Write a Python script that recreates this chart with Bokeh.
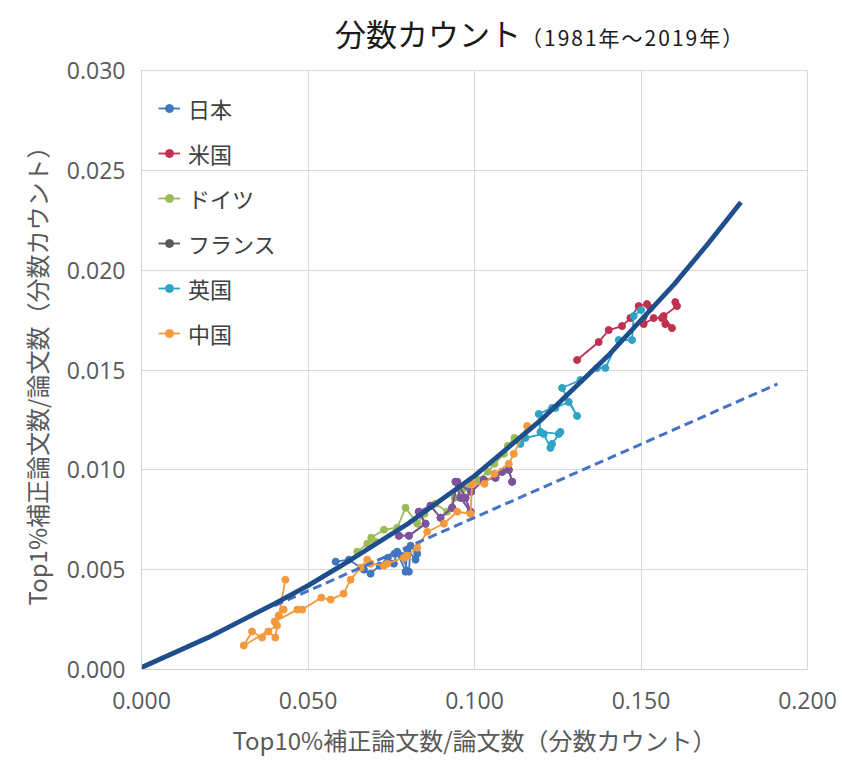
from bokeh.plotting import figure
from bokeh.models import (ColumnDataSource, Legend, LegendItem, FixedTicker,
                          NumeralTickFormatter, Range1d, Div)
from bokeh.layouts import column
from bokeh.embed import file_html
from bokeh.resources import INLINE

# ---------------- data ----------------
jp_x = [0.0583, 0.0623, 0.0668, 0.0688, 0.0715, 0.0740, 0.0758, 0.0768, 0.0793, 0.0798,
        0.0823, 0.0828, 0.0808, 0.0803, 0.0780, 0.0760]
jp_y = [0.0054, 0.0055, 0.0050, 0.0048, 0.0052, 0.0056, 0.0053, 0.0059, 0.0049, 0.0060,
        0.0055, 0.0058, 0.0062, 0.0049, 0.0057, 0.0058]

us_x = [0.1603, 0.1608, 0.1568, 0.1593, 0.1573, 0.1563, 0.1538, 0.1508, 0.1528, 0.1518,
        0.1493, 0.1468, 0.1443, 0.1403, 0.1373, 0.1308]
us_y = [0.0184, 0.0182, 0.0177, 0.0171, 0.0173, 0.0176, 0.0176, 0.0173, 0.0181, 0.0183,
        0.0182, 0.0176, 0.0172, 0.0170, 0.0164, 0.0155]

de_x = [0.0648, 0.0678, 0.0703, 0.0690, 0.0728, 0.0768, 0.0793, 0.0828, 0.0850, 0.0883,
        0.0918, 0.0940, 0.0963, 0.0983, 0.1010, 0.1040, 0.1060, 0.1088, 0.1100, 0.1120]
de_y = [0.0059, 0.0063, 0.0064, 0.0066, 0.0070, 0.0071, 0.0081, 0.0073, 0.0078, 0.0083,
        0.0079, 0.0086, 0.0090, 0.0091, 0.0095, 0.0099, 0.0103, 0.0108, 0.0112, 0.0116]

fr_x = [0.0773, 0.0803, 0.0853, 0.0833, 0.0868, 0.0898, 0.0933, 0.0948, 0.0973, 0.0988,
        0.0958, 0.0943, 0.0990, 0.1028, 0.1063, 0.1083, 0.1103, 0.1113]
fr_y = [0.0067, 0.0067, 0.0073, 0.0079, 0.0082, 0.0076, 0.0081, 0.0094, 0.0086, 0.0079,
        0.0086, 0.0094, 0.0089, 0.0095, 0.0096, 0.0099, 0.0100, 0.0094]

uk_x = [0.1138, 0.1153, 0.1208, 0.1228, 0.1233, 0.1258, 0.1253, 0.1198, 0.1193, 0.1233,
        0.1243, 0.1283, 0.1308, 0.1263, 0.1318, 0.1368, 0.1393, 0.1433, 0.1473, 0.1478, 0.1500]
uk_y = [0.0113, 0.0116, 0.0118, 0.0111, 0.0113, 0.0119, 0.0118, 0.0119, 0.0128, 0.0131,
        0.0131, 0.0134, 0.0127, 0.0141, 0.0145, 0.0151, 0.0151, 0.0165, 0.0165, 0.0177, 0.0180]

cn_x = [0.0432, 0.0407, 0.0307, 0.0332, 0.0362, 0.0381, 0.0402, 0.0412, 0.0427, 0.0400,
        0.0468, 0.0483, 0.0540, 0.0568, 0.0607, 0.0628, 0.0658, 0.0678, 0.0688, 0.0728,
        0.0738, 0.0788, 0.0798, 0.0828, 0.0858, 0.0908, 0.0948, 0.0988, 0.0993, 0.1030,
        0.1060, 0.1103, 0.1118, 0.1158]
cn_y = [0.0045, 0.0022, 0.0012, 0.0019, 0.0016, 0.0019, 0.0016, 0.0027, 0.0030, 0.0024,
        0.0030, 0.0030, 0.0036, 0.0035, 0.0038, 0.0045, 0.0051, 0.0055, 0.0053, 0.0052,
        0.0053, 0.0056, 0.0057, 0.0061, 0.0069, 0.0073, 0.0079, 0.0078, 0.0093, 0.0093,
        0.0098, 0.0103, 0.0108, 0.0122]

# fitted curve (solid) and linear trend (dashed)
fit_x = [0.0, 0.02, 0.04, 0.05, 0.06, 0.08, 0.10, 0.12, 0.13, 0.14, 0.15, 0.16, 0.17, 0.18]
fit_y = [0.0001, 0.0016, 0.0033, 0.0042, 0.0052, 0.0073, 0.0097, 0.0125, 0.0141, 0.0157,
         0.0175, 0.0193, 0.0213, 0.0234]
lin_x = [0.040, 0.191]
lin_y = [0.0032, 0.0143]

x_ticks = [0.0, 0.05, 0.10, 0.15, 0.20]
y_ticks = [0.0, 0.005, 0.010, 0.015, 0.020, 0.025, 0.030]

names = ["日本", "米国", "ドイツ", "フランス", "英国", "中国"]
series = [(jp_x, jp_y), (us_x, us_y), (de_x, de_y), (fr_x, fr_y), (uk_x, uk_y), (cn_x, cn_y)]
colors = ["#3f76bd", "#c0304f", "#9bbb59", "#7e52a0", "#2fa3c4", "#f59a3c"]
legend_colors = ["#3f76bd", "#c0304f", "#9bbb59", "#5a5a5a", "#2fa3c4", "#f59a3c"]

title_main = "分数カウント"
title_sub = "（1981年～2019年）"
x_label = "Top10%補正論文数/論文数（分数カウント）"
y_label = "Top1%補正論文数/論文数（分数カウント）"

JP = "Noto Sans CJK JP"

# ---------------- title ----------------
title = Div(
    text=(f'<div style="padding-left:335px;padding-top:16px;white-space:nowrap;'
          f'font-family:\'{JP}\';color:#1a1a1a;line-height:34px;">'
          f'<span style="font-size:31px;">{title_main}</span>'
          f'<span style="font-size:21px;letter-spacing:2px;">{title_sub}</span></div>'),
    width=842, height=52, margin=0)

# ---------------- figure ----------------
p = figure(width=842, height=724, output_backend="svg", toolbar_location=None,
           x_range=Range1d(0, 0.2), y_range=Range1d(0, 0.03),
           min_border_left=141, min_border_right=35, min_border_top=18, min_border_bottom=107,
           margin=0)
p.background_fill_color = "white"
p.border_fill_color = "white"
p.outline_line_color = "#d9d9d9"

for ax in (p.xaxis[0], p.yaxis[0]):
    ax.axis_line_color = "#d0d0d0"
    ax.major_tick_line_color = None
    ax.minor_tick_line_color = None
    ax.major_tick_out = 0
    ax.major_tick_in = 0
    ax.major_label_text_font = "Open Sans"
    ax.major_label_text_font_size = "23px"
    ax.major_label_text_color = "#595959"
    ax.axis_label_text_font = JP
    ax.axis_label_text_font_size = "24px"
    ax.axis_label_text_font_style = "normal"
    ax.axis_label_text_color = "#595959"
    ax.formatter = NumeralTickFormatter(format="0.000")

p.xaxis[0].ticker = FixedTicker(ticks=x_ticks)
p.yaxis[0].ticker = FixedTicker(ticks=y_ticks)
p.xaxis[0].major_label_standoff = 22
p.yaxis[0].major_label_standoff = 16
p.xaxis[0].axis_label = x_label
p.yaxis[0].axis_label = y_label
p.xaxis[0].axis_label_standoff = 10
p.yaxis[0].axis_label_standoff = 10

p.xgrid.grid_line_color = "#d9d9d9"
p.ygrid.grid_line_color = "#d9d9d9"
p.xgrid.ticker = FixedTicker(ticks=x_ticks)
p.ygrid.ticker = FixedTicker(ticks=y_ticks)

items = []
for name, (xs, ys), c, lc in zip(names, series, colors, legend_colors):
    src = ColumnDataSource(dict(x=xs, y=ys))
    leg = []
    if lc != c:
        # legend swatch colour differs from the plotted colour: draw it underneath
        leg = [p.line("x", "y", source=src, line_color=lc, line_width=1.8),
               p.scatter("x", "y", source=src, size=7, fill_color=lc, line_color=lc)]
    r_line = p.line("x", "y", source=src, line_color=c, line_width=1.8)
    r_pt = p.scatter("x", "y", source=src, size=7, fill_color=c, line_color=c)
    items.append(LegendItem(label=name, renderers=leg if leg else [r_line, r_pt]))

p.line(lin_x, lin_y, line_color="#4472c4", line_width=3, line_dash="9 5")
p.line(fit_x, fit_y, line_color="#1f4e8c", line_width=4.8)

legend = Legend(items=items, location=(17, 320), orientation="vertical",
                border_line_color=None, background_fill_alpha=0, padding=0, margin=0,
                spacing=13, glyph_height=20, glyph_width=22, label_height=20,
                label_standoff=8, label_text_font=JP, label_text_font_size="22px",
                label_text_color="#404040")
p.add_layout(legend)

layout = column(title, p, spacing=0, margin=0)
open("out.html", "w").write(file_html(layout, INLINE))
